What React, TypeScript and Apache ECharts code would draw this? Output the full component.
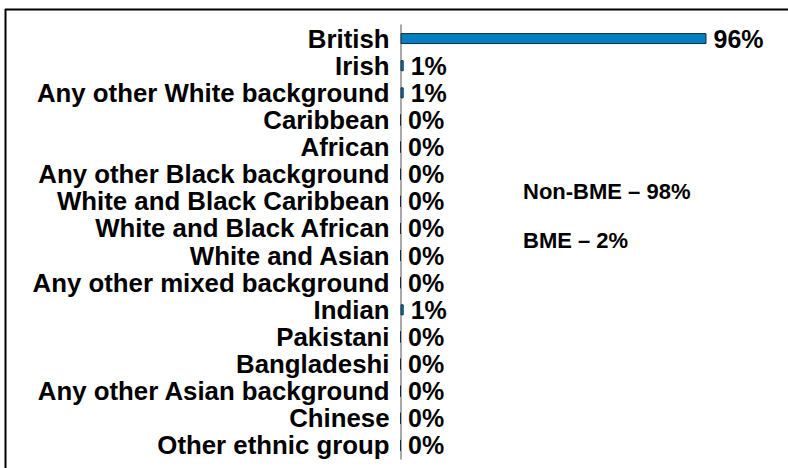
import React, { useEffect, useRef } from "react";
import * as echarts from "echarts";

const categories = [
  "British",
  "Irish",
  "Any other White background",
  "Caribbean",
  "African",
  "Any other Black background",
  "White and Black Caribbean",
  "White and Black African",
  "White and Asian",
  "Any other mixed background",
  "Indian",
  "Pakistani",
  "Bangladeshi",
  "Any other Asian background",
  "Chinese",
  "Other ethnic group",
];
const values = [96, 1, 1, 0, 0, 0, 0, 0, 0, 0, 1, 0, 0, 0, 0, 0];
const summaryLines = ["Non-BME – 98%", "BME – 2%"];

const FONT = '"Liberation Sans", Arial, Helvetica, sans-serif';

export default function App() {
  const ref = useRef<HTMLDivElement>(null);
  useEffect(() => {
    if (!ref.current) return;
    const chart = echarts.init(ref.current, null, { renderer: "svg" });
    chart.setOption({
      animation: false,
      backgroundColor: "#ffffff",
      grid: { left: 400.5, top: 25, bottom: 9, right: 68.75, containLabel: false },
      xAxis: {
        type: "value",
        min: 0,
        max: 100,
        show: false,
      },
      yAxis: {
        type: "category",
        data: categories,
        inverse: true,
        axisLine: { show: true, lineStyle: { color: "#8c8c8c", width: 1.5 } },
        axisTick: { show: false },
        axisLabel: {
          interval: 0,
          hideOverlap: false,
          color: "#000",
          fontFamily: FONT,
          fontWeight: "bold",
          fontSize: 25.8,
          margin: 11,
        },
      },
      series: [
        {
          type: "bar",
          data: values,
          barWidth: 11,
          itemStyle: { color: "#0080c0", borderColor: "#1a2a3a", borderWidth: 1 },
          label: {
            show: true,
            position: "right",
            distance: 7,
            formatter: "{c}%",
            color: "#000",
            fontFamily: FONT,
            fontWeight: "bold",
            fontSize: 25,
          },
        },
      ],
      graphic: [
        {
          type: "line",
          shape: { x1: 5, y1: 9.5, x2: 788, y2: 9.5 },
          style: { stroke: "#000", lineWidth: 2 },
        },
        {
          type: "line",
          shape: { x1: 5.5, y1: 9, x2: 5.5, y2: 468 },
          style: { stroke: "#000", lineWidth: 2 },
        },
        {
          type: "text",
          x: 523,
          y: 191,
          style: {
            text: summaryLines[0],
            fill: "#000",
            font: `bold 22px ${FONT}`,
            textVerticalAlign: "middle",
          },
        },
        {
          type: "text",
          x: 523,
          y: 240,
          style: {
            text: summaryLines[1],
            fill: "#000",
            font: `bold 22px ${FONT}`,
            textVerticalAlign: "middle",
          },
        },
      ],
    });
    return () => chart.dispose();
  }, []);
  return (
    <div
      ref={ref}
      style={{ position: "fixed", left: 0, top: 0, width: 788, height: 468 }}
    />
  );
}
